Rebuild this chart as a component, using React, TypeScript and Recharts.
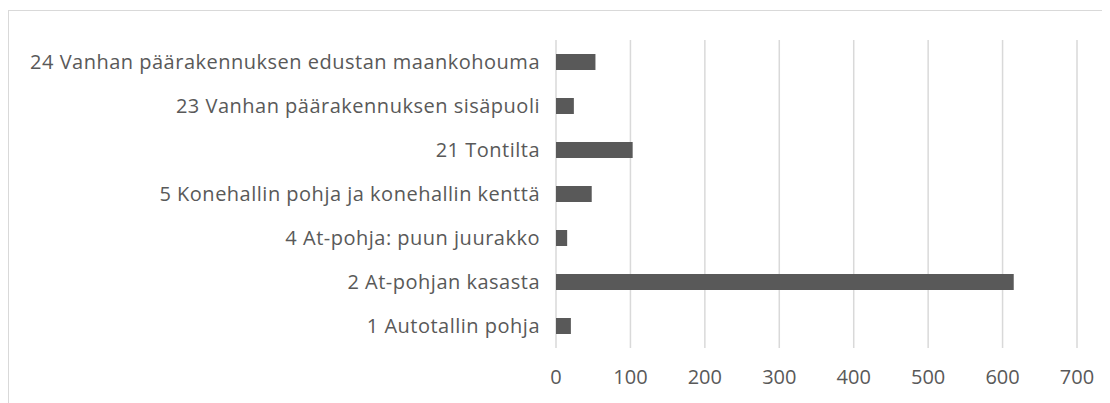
import { BarChart, Bar, XAxis, YAxis, CartesianGrid } from 'recharts';

const sites = [
  '24 Vanhan päärakennuksen edustan maankohouma',
  '23 Vanhan päärakennuksen sisäpuoli',
  '21 Tontilta',
  '5 Konehallin pohja ja konehallin kenttä',
  '4 At-pohja: puun juurakko',
  '2 At-pohjan kasasta',
  '1 Autotallin pohja'
];
const counts = [53, 24, 103, 48, 15, 615, 20];
const xTicks = [0, 100, 200, 300, 400, 500, 600, 700];

const data = sites.map((name, i) => ({ name, count: counts[i] }));

const FONT = '"Open Sans", sans-serif';

export default function App() {
  return (
    <div style={{ width: 1102, height: 393, marginTop: 2, borderTop: '1px solid #d9d9d9', borderLeft: '1px solid #d9d9d9', overflow: 'hidden' }}>
      <BarChart
        width={1100}
        height={392}
        data={data}
        layout="vertical"
        margin={{ top: 29, right: 32, left: 0, bottom: 25 }}
        barCategoryGap={14}
      >
        <CartesianGrid horizontal={false} stroke="#d9d9d9" strokeWidth={1.5} />
        <XAxis
          type="number"
          domain={[0, 700]}
          ticks={xTicks}
          axisLine={false}
          tickLine={false}
          tickMargin={16}
          tick={{ fill: '#595959', fontSize: 20, fontFamily: FONT }}
        />
        <YAxis
          type="category"
          dataKey="name"
          width={547}
          axisLine={false}
          tickLine={false}
          tickMargin={10}
          tick={{ fill: '#595959', fontSize: 20, fontFamily: FONT, letterSpacing: 0.5 }}
        />
        <Bar dataKey="count" fill="#595959" barSize={16} isAnimationActive={false} />
      </BarChart>
    </div>
  );
}
